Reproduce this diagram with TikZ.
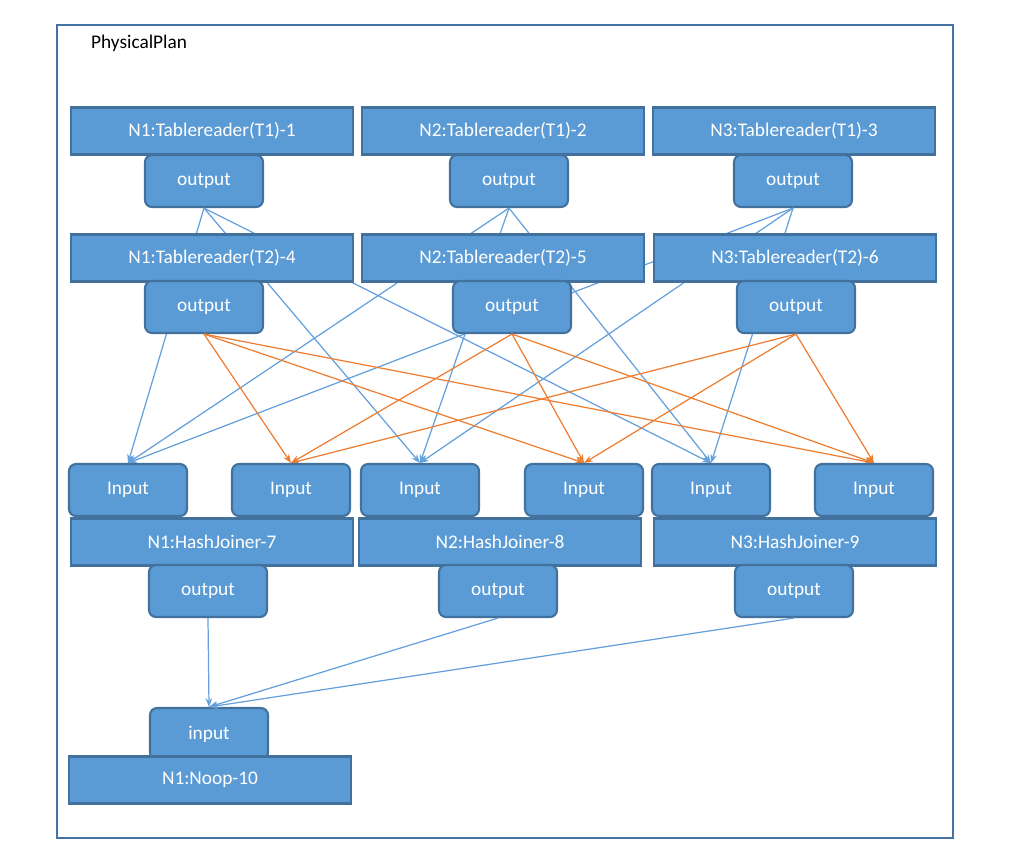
\documentclass[tikz,border=0pt]{standalone}
\usepackage{fontspec}
\setmainfont{Carlito}
\usetikzlibrary{arrows.meta, positioning}
\definecolor{boxfill}{RGB}{91, 155, 213}
\definecolor{boxdraw}{RGB}{65, 113, 156}
\definecolor{edgeblue}{RGB}{100, 160, 220}
\definecolor{edgeorange}{RGB}{237, 125, 49}
\definecolor{framecol}{RGB}{70, 114, 166}

\begin{document}
\begin{tikzpicture}[x=0.02cm, y=-0.02cm]
\tikzstyle{stage} = [rectangle, minimum width=5.64cm, minimum height=0.94cm, text centered, draw=boxdraw, line width=1.2pt, fill=boxfill, text=white, font=\fontsize{11}{13}\selectfont]
\tikzstyle{port} = [rectangle, rounded corners=4pt, minimum width=2.36cm, minimum height=1.04cm, text centered, draw=boxdraw, line width=1.2pt, fill=boxfill, text=white, font=\fontsize{11}{13}\selectfont]
\tikzstyle{bluearrow} = [edgeblue, line width=0.7pt, -{Stealth[length=5pt]}]
\tikzstyle{orangearrow} = [edgeorange, line width=0.7pt, -{Stealth[length=5pt]}]

\useasboundingbox (0,0) rectangle (1024,859);
\draw[framecol, line width=1.6pt] (57,25) rectangle (953,838);
\node[anchor=west, font=\fontsize{11}{13}\selectfont] (title) at (85,43) {PhysicalPlan};

% first table readers
\node (t1) [stage] at (212,131) {N1:Tablereader(T1)-1};
\node (t2) [stage] at (503,131) {N2:Tablereader(T1)-2};
\node (t3) [stage] at (794,131) {N3:Tablereader(T1)-3};
\node (o1) [port] at (204,181) {output};
\node (o2) [port] at (509,181) {output};
\node (o3) [port] at (793,181) {output};

% joiner inputs (positions only, drawn later)
\coordinate (lin1) at (128,463);
\coordinate (lin2) at (420,463);
\coordinate (lin3) at (711,463);
\coordinate (rin1) at (291,463);
\coordinate (rin2) at (584,463);
\coordinate (rin3) at (874,463);

\foreach \s in {1,2,3}
  \foreach \t in {1,2,3}
    \draw [bluearrow] (o\s.south) -- (lin\t);

% second table readers
\node (t4) [stage] at (212,258) {N1:Tablereader(T2)-4};
\node (t5) [stage] at (503,258) {N2:Tablereader(T2)-5};
\node (t6) [stage] at (795,258) {N3:Tablereader(T2)-6};
\node (o4) [port] at (204,307) {output};
\node (o5) [port] at (512,307) {output};
\node (o6) [port] at (796,307) {output};

\foreach \s in {4,5,6}
  \foreach \t in {1,2,3}
    \draw [orangearrow] (o\s.south) -- (rin\t);

% hash joiners
\node (li1) [port] at (128,490) {Input};
\node (ri1) [port] at (291,490) {Input};
\node (li2) [port] at (420,490) {Input};
\node (ri2) [port] at (584,490) {Input};
\node (li3) [port] at (711,490) {Input};
\node (ri3) [port] at (874,490) {Input};
\node (j1) [stage] at (212,542) {N1:HashJoiner-7};
\node (j2) [stage] at (500,542) {N2:HashJoiner-8};
\node (j3) [stage] at (795,542) {N3:HashJoiner-9};
\node (jo1) [port] at (208,591) {output};
\node (jo2) [port] at (498,591) {output};
\node (jo3) [port] at (794,591) {output};

% noop
\node (ni) [port] at (209,734) {input};
\node (noop) [stage] at (210,780) {N1:Noop-10};

\foreach \s in {1,2,3}
  \draw [bluearrow] (jo\s.south) -- (ni.north);
\end{tikzpicture}
\end{document}
